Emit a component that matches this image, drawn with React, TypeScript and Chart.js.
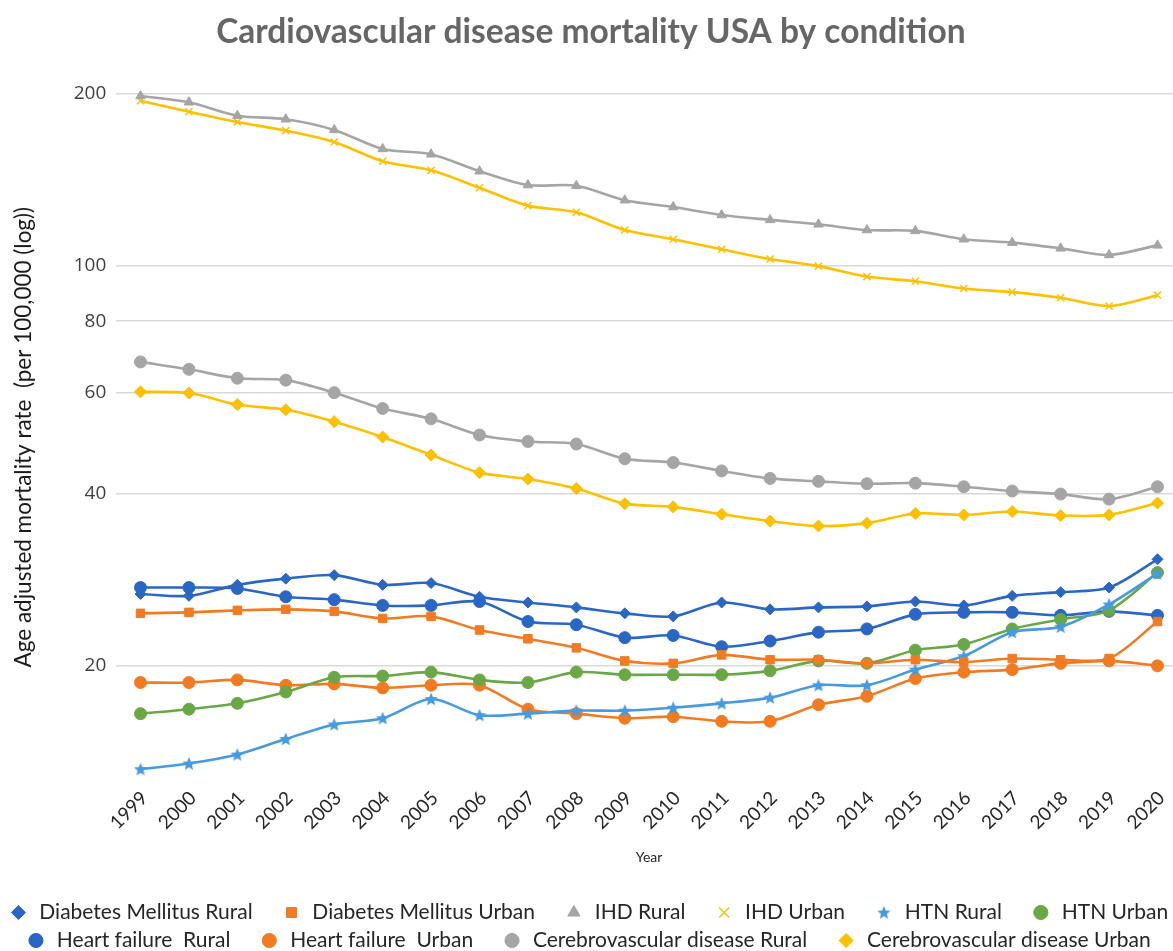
import React, { useEffect, useRef } from 'react';
import { Chart, registerables } from 'chart.js';

Chart.register(...registerables);

// ---------- data ----------
const years = ['1999', '2000', '2001', '2002', '2003', '2004', '2005', '2006', '2007', '2008', '2009', '2010', '2011', '2012', '2013', '2014', '2015', '2016', '2017', '2018', '2019', '2020'];

const dmRural = [26.7, 26.5, 27.7, 28.4, 28.8, 27.7, 27.9, 26.4, 25.8, 25.3, 24.7, 24.4, 25.8, 25.1, 25.3, 25.4, 25.9, 25.5, 26.5, 26.9, 27.4, 30.7];
const dmUrban = [24.7, 24.8, 25.0, 25.1, 24.9, 24.2, 24.4, 23.1, 22.3, 21.5, 20.4, 20.2, 20.9, 20.5, 20.5, 20.2, 20.5, 20.3, 20.6, 20.5, 20.6, 23.9];
const ihdRural = [197.8, 192.9, 182.8, 180.2, 172.6, 159.9, 156.5, 146.2, 138.3, 137.9, 130.1, 126.6, 122.6, 120.2, 118.1, 115.4, 115.0, 111.2, 109.7, 107.2, 104.4, 108.5];
const ihdUrban = [194.1, 185.7, 178.2, 172.1, 164.4, 152.2, 146.7, 136.8, 127.3, 123.9, 115.4, 111.2, 106.8, 102.7, 99.8, 95.7, 93.9, 91.2, 89.9, 87.9, 85.0, 88.8];
const htnRural = [13.2, 13.5, 14.0, 14.9, 15.8, 16.2, 17.5, 16.4, 16.5, 16.7, 16.7, 16.9, 17.2, 17.6, 18.5, 18.5, 19.7, 20.8, 22.9, 23.4, 25.6, 29.0];
const htnUrban = [16.5, 16.8, 17.2, 18.0, 19.1, 19.2, 19.5, 18.9, 18.7, 19.5, 19.3, 19.3, 19.3, 19.6, 20.4, 20.2, 21.3, 21.8, 23.2, 24.1, 25.0, 29.1];
const hfRural = [27.4, 27.4, 27.3, 26.4, 26.1, 25.5, 25.5, 25.9, 23.9, 23.6, 22.4, 22.6, 21.6, 22.1, 22.9, 23.2, 24.6, 24.8, 24.8, 24.5, 24.9, 24.5];
const hfUrban = [18.7, 18.7, 18.9, 18.5, 18.6, 18.3, 18.5, 18.5, 16.8, 16.5, 16.2, 16.3, 16.0, 16.0, 17.1, 17.7, 19.0, 19.5, 19.7, 20.2, 20.4, 20.0];
const cvRural = [67.9, 65.9, 63.6, 63.1, 60.0, 56.3, 54.0, 50.6, 49.3, 48.8, 46.0, 45.3, 43.8, 42.5, 42.0, 41.6, 41.7, 41.1, 40.4, 39.9, 39.1, 41.1];
const cvUrban = [60.2, 59.9, 57.2, 56.0, 53.4, 50.2, 46.7, 43.5, 42.4, 40.8, 38.4, 37.9, 36.8, 35.8, 35.1, 35.5, 36.9, 36.7, 37.2, 36.6, 36.7, 38.5];

const yTickValues = [20, 40, 60, 80, 100, 200];

const TITLE = 'Cardiovascular disease mortality USA by condition';
const Y_TITLE = 'Age adjusted mortality rate  (per 100,000 (log))';
const X_TITLE = 'Year';

// ---------- style ----------
const DARK_BLUE = '#2A66C4';
const LIGHT_BLUE = '#469AE0';
const ORANGE = '#F27B22';
const GRAY = '#A5A5A5';
const GOLD = '#FFC000';
const GREEN = '#6AA846';

const LATO = 'Lato, "Open Sans", sans-serif';
const SANS = '"Open Sans", "Liberation Sans", sans-serif';

function makeStar(color: string, size: number) {
  const c = document.createElement('canvas');
  c.width = size;
  c.height = size;
  const ctx = c.getContext('2d')!;
  const cx = size / 2;
  const cy = size / 2 + 0.5;
  const R = size / 2;
  const r = R * 0.45;
  ctx.beginPath();
  for (let i = 0; i < 10; i++) {
    const a = -Math.PI / 2 + (i * Math.PI) / 5;
    const rad = i % 2 === 0 ? R : r;
    ctx.lineTo(cx + rad * Math.cos(a), cy + rad * Math.sin(a));
  }
  ctx.closePath();
  ctx.fillStyle = color;
  ctx.fill();
  return c;
}

const yTitlePlugin = {
  id: 'yTitleCustom',
  afterDraw(chart: any) {
    const ctx = chart.ctx;
    const area = chart.chartArea;
    ctx.save();
    ctx.translate(24, (area.top + area.bottom) / 2 + 14);
    ctx.rotate(-Math.PI / 2);
    ctx.font = `22.5px ${LATO}`;
    ctx.fillStyle = '#1A1A1A';
    ctx.textAlign = 'center';
    ctx.textBaseline = 'middle';
    ctx.fillText(Y_TITLE, 0, 0);
    ctx.restore();
  },
};

export default function App() {
  const ref = useRef<HTMLCanvasElement | null>(null);

  useEffect(() => {
    if (!ref.current) return;
    const star = makeStar(LIGHT_BLUE, 14);

    const ds = (label: string, data: number[], color: string, pointStyle: any, radius: number, extra: any = {}) => ({
      label,
      data,
      borderColor: color,
      backgroundColor: color,
      pointBackgroundColor: color,
      pointBorderColor: color,
      pointStyle,
      pointRadius: radius,
      pointBorderWidth: 1,
      borderWidth: 2.6,
      tension: 0.3,
      fill: false,
      ...extra,
    });

    const datasets = [
      ds('Diabetes Mellitus Rural', dmRural, DARK_BLUE, 'rectRot', 5.5),
      ds('Diabetes Mellitus Urban', dmUrban, ORANGE, 'rect', 6),
      ds('IHD Rural', ihdRural, GRAY, 'triangle', 5.5),
      ds('IHD Urban', ihdUrban, GOLD, 'crossRot', 5, { pointBorderWidth: 1.5 }),
      ds('HTN Rural', htnRural, LIGHT_BLUE, star, 7),
      ds('HTN Urban', htnUrban, GREEN, 'circle', 6),
      ds('Heart failure  Rural', hfRural, DARK_BLUE, 'circle', 6),
      ds('Heart failure  Urban', hfUrban, ORANGE, 'circle', 6),
      ds('Cerebrovascular disease Rural', cvRural, GRAY, 'circle', 6),
      ds('Cerebrovascular disease Urban', cvUrban, GOLD, 'rectRot', 6),
    ];

    const rowEnd = new Set([5, 9]);

    const chart = new Chart(ref.current, {
      type: 'line',
      data: { labels: years, datasets },
      plugins: [yTitlePlugin],
      options: {
        animation: false,
        responsive: true,
        maintainAspectRatio: false,
        events: [],
        layout: { padding: { left: 0, right: 8.3, top: 0, bottom: 0 } },
        plugins: {
          tooltip: { enabled: false },
          title: {
            display: true,
            text: TITLE,
            color: '#666666',
            font: { family: LATO, size: 33.5, weight: 'bold' },
            padding: { top: 12, bottom: 17.4 },
          },
          legend: {
            display: true,
            position: 'bottom',
            labels: {
              usePointStyle: true,
              boxWidth: 10,
              boxHeight: 10,
              padding: 7,
              color: '#262626',
              font: { family: LATO, size: 21 },
              generateLabels: (c: any) => {
                const items = (Chart.defaults as any).plugins.legend.labels.generateLabels(c);
                return items.map((it: any, i: number) => ({
                  ...it,
                  text: ' ' + it.text + (rowEnd.has(i) ? '' : '     '),
                }));
              },
            },
          },
        },
        scales: {
          x: {
            type: 'category',
            offset: true,
            grid: { display: false },
            border: { display: false },
            afterFit: (s: any) => {
              s.height = 118.2;
            },
            ticks: {
              autoSkip: false,
              minRotation: 45,
              maxRotation: 45,
              padding: 2,
              labelOffset: 4,
              color: '#262626',
              font: { family: LATO, size: 19 },
            },
            title: {
              display: true,
              text: X_TITLE,
              color: '#262626',
              font: { family: LATO, size: 14 },
              padding: { top: 0, bottom: 29.6 },
            },
          },
          y: {
            type: 'logarithmic',
            min: 12.8,
            max: 220,
            bounds: 'data',
            afterFit: (s: any) => {
              s.width = 116.3;
            },
            afterBuildTicks: (s: any) => {
              s.ticks = yTickValues.map((v) => ({ value: v }));
            },
            grid: { color: '#D9D9D9', lineWidth: 1.5, drawTicks: false },
            border: { display: false },
            ticks: {
              autoSkip: false,
              padding: 10,
              color: '#404040',
              font: { family: SANS, size: 19 },
              callback: (v: any) => String(v),
            },
            title: { display: false },
          },
        },
      } as any,
    });

    return () => chart.destroy();
  }, []);

  return (
    <div
      style={{
        position: 'fixed',
        left: 0,
        top: 0,
        width: 1173,
        height: 951,
        overflow: 'hidden',
        background: '#ffffff',
      }}
    >
      <div style={{ position: 'relative', width: 1190, height: 961 }}>
        <canvas ref={ref} />
      </div>
    </div>
  );
}
